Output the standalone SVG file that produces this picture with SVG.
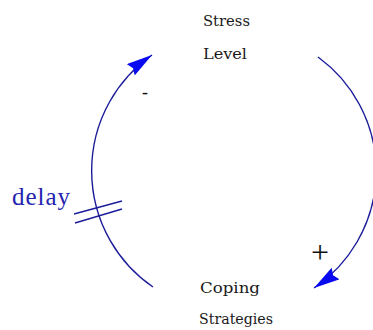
<svg xmlns="http://www.w3.org/2000/svg" width="373" height="330" viewBox="0 0 373 330">
<defs>
<style>
.node{font-family:"DejaVu Serif","Liberation Serif",serif;font-size:15.5px;fill:#1a1a1a}
.link{fill:none;stroke:#1c1c9a;stroke-width:1.4}
.sign{font-family:"Liberation Serif","DejaVu Serif",serif;fill:#111}
.delay{font-family:"Liberation Serif","DejaVu Serif",serif;font-size:25px;fill:#2424b0}
</style>
<marker id="ah" markerUnits="userSpaceOnUse" markerWidth="28" markerHeight="16" refX="26" refY="7" orient="auto">
<path d="M0,0 L26,7 L0,14 L3,7 Z" fill="#0a0af0"/>
</marker>
</defs>
<rect width="373" height="330" fill="#ffffff"/>
<g id="stress-level">
<text class="node" x="203" y="26" textLength="47" lengthAdjust="spacingAndGlyphs">Stress</text>
<text class="node" x="203" y="59" textLength="44" lengthAdjust="spacingAndGlyphs">Level</text>
</g>
<g id="coping-strategies">
<text class="node" x="200" y="293" textLength="60" lengthAdjust="spacingAndGlyphs">Coping</text>
<text class="node" x="199" y="324" textLength="74" lengthAdjust="spacingAndGlyphs">Strategies</text>
</g>
<g id="connectors">
<path class="link" d="M318,57 A141,141 0 0 1 314,288" marker-end="url(#ah)"/>
<path class="link" d="M153,287 A141,141 0 0 1 152,55" marker-end="url(#ah)"/>
<text class="sign" x="320" y="263" font-size="32" text-anchor="middle">+</text>
<text class="sign" x="145" y="98" font-size="18" text-anchor="middle">-</text>
<text class="delay" x="12" y="205" textLength="58" lengthAdjust="spacing">delay</text>
<line class="link" x1="74" y1="214" x2="122" y2="201"/>
<line class="link" x1="75" y1="223" x2="122" y2="209"/>
</g>
</svg>
